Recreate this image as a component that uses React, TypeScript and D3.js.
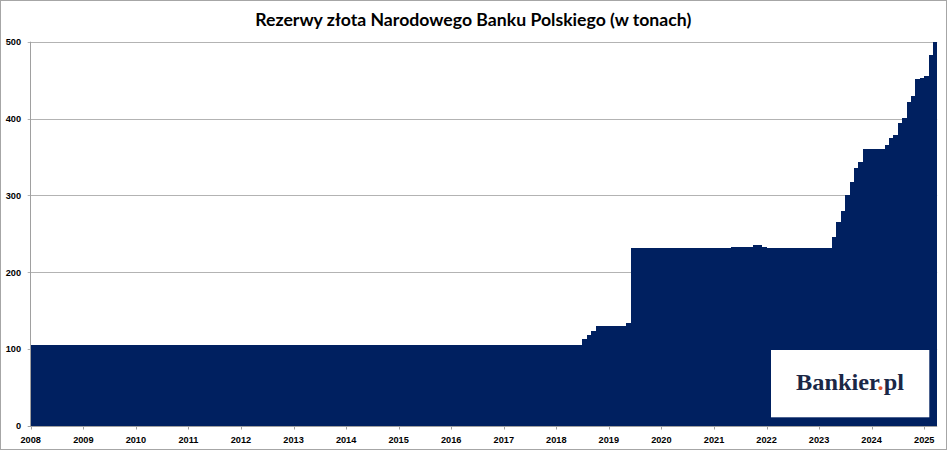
import React, { useEffect, useRef } from "react";
import * as d3 from "d3";

// Month in which the reserve level changed, and the level (tonnes) held from then on
const changeMonths: string[] = [
  "2008-01", "2018-07", "2018-08", "2018-09", "2018-10", "2019-05", "2019-06",
  "2021-05", "2021-06", "2021-09", "2021-10", "2021-12", "2022-01",
  "2023-04", "2023-05", "2023-06", "2023-07", "2023-08", "2023-09", "2023-10", "2023-11",
  "2024-01", "2024-03", "2024-04", "2024-05", "2024-06", "2024-07", "2024-08", "2024-09",
  "2024-10", "2024-11", "2024-12", "2025-01", "2025-02", "2025-03",
];
const changeValues: number[] = [
  105, 113, 118.5, 123, 130, 134.5, 231,
  233.5, 232.8, 232.5, 235.2, 233.5, 231,
  245.7, 266, 280, 301, 317, 335.5, 343, 360.7,
  360, 361, 366, 374.6, 379, 394, 400.6, 422,
  430, 452, 452.7, 455, 483, 499.6,
];
const lastMonth = "2025-03";

const yTicks: number[] = [0, 100, 200, 300, 400, 500];
const yearTicks: number[] = d3.range(2008, 2026);

const title = "Rezerwy złota Narodowego Banku Polskiego (w tonach)";

const parseMonth = d3.timeParse("%Y-%m");

const App: React.FC = () => {
  const svgRef = useRef<SVGSVGElement>(null);

  useEffect(() => {
    const svg = d3.select(svgRef.current);
    const W = 948;
    const H = 452;

    // expand the step changes into one bar per month
    const changes = changeMonths.map((m, i) => ({ date: parseMonth(m) as Date, value: changeValues[i] }));
    const months = d3.timeMonth.range(parseMonth("2008-01") as Date, d3.timeMonth.offset(parseMonth(lastMonth) as Date, 1));
    const data = months.map((d) => {
      let v = changes[0].value;
      for (const c of changes) if (c.date <= d) v = c.value;
      return { date: d, value: v };
    });

    const x = d3
      .scaleTime()
      .domain([new Date(2008, 0, 1), new Date(2025, 3, 1)])
      .range([30.7, 937.2]);
    const y = d3.scaleLinear().domain([0, 500]).range([426, 41.7]);

    // outer frame
    svg
      .append("rect")
      .attr("x", 0.5)
      .attr("y", 0.5)
      .attr("width", W - 2)
      .attr("height", H - 3)
      .attr("fill", "#fff")
      .attr("stroke", "#a6a6a6");

    // title
    svg
      .append("text")
      .attr("x", 473.3)
      .attr("y", 26)
      .attr("text-anchor", "middle")
      .attr("font-family", "Lato, 'Open Sans', sans-serif")
      .attr("font-weight", 700)
      .attr("font-size", 16.5)
      .attr("textLength", 436)
      .attr("lengthAdjust", "spacingAndGlyphs")
      .attr("fill", "#000")
      .text(title);

    // gridlines
    svg
      .append("g")
      .selectAll("line")
      .data(yTicks.filter((t) => t > 0))
      .join("line")
      .attr("x1", 27.7)
      .attr("x2", x.range()[1])
      .attr("y1", (d) => Math.round(y(d)) + 0.5)
      .attr("y2", (d) => Math.round(y(d)) + 0.5)
      .attr("stroke", "#b3b3b3")
      .attr("stroke-width", 1);

    // monthly bars, snapped to whole pixels so neighbours meet without seams
    svg
      .append("g")
      .attr("shape-rendering", "crispEdges")
      .selectAll("rect")
      .data(data)
      .join("rect")
      .attr("x", (d) => Math.round(x(d.date)))
      .attr("width", (d) => Math.round(x(d3.timeMonth.offset(d.date, 1))) - Math.round(x(d.date)))
      .attr("y", (d) => Math.round(y(d.value)))
      .attr("height", (d) => Math.round(y(0)) - Math.round(y(d.value)))
      .attr("fill", "#002060");

    // y axis line
    svg
      .append("line")
      .attr("x1", 30.5)
      .attr("x2", 30.5)
      .attr("y1", y(500))
      .attr("y2", y(0))
      .attr("stroke", "#a0a0a0");

    // x axis line + ticks
    svg
      .append("line")
      .attr("x1", 27.7)
      .attr("x2", x.range()[1])
      .attr("y1", y(0) + 0.5)
      .attr("y2", y(0) + 0.5)
      .attr("stroke", "#a0a0a0");

    svg
      .append("g")
      .selectAll("line")
      .data(yearTicks)
      .join("line")
      .attr("x1", (d) => Math.round(x(new Date(d, 0, 1))) + 0.5)
      .attr("x2", (d) => Math.round(x(new Date(d, 0, 1))) + 0.5)
      .attr("y1", y(0))
      .attr("y2", y(0) + 3.5)
      .attr("stroke", "#a0a0a0");

    // y labels
    svg
      .append("g")
      .selectAll("text")
      .data(yTicks)
      .join("text")
      .attr("x", 21)
      .attr("y", (d) => y(d) + 3.3)
      .attr("text-anchor", "end")
      .attr("font-family", "'Liberation Sans', Arial, sans-serif")
      .attr("font-weight", 700)
      .attr("font-size", 9.2)
      .attr("fill", "#000")
      .text((d) => String(d));

    // x labels
    svg
      .append("g")
      .selectAll("text")
      .data(yearTicks)
      .join("text")
      .attr("x", (d) => x(new Date(d, 0, 1)))
      .attr("y", 443.3)
      .attr("text-anchor", "middle")
      .attr("font-family", "'Liberation Sans', Arial, sans-serif")
      .attr("font-weight", 700)
      .attr("font-size", 9.2)
      .attr("fill", "#000")
      .text((d) => String(d));

    // logo box
    svg
      .append("rect")
      .attr("x", 771)
      .attr("y", 350)
      .attr("width", 158.3)
      .attr("height", 67.3)
      .attr("fill", "#fff");

    const logo = svg
      .append("text")
      .attr("x", 850)
      .attr("y", 390)
      .attr("text-anchor", "middle")
      .attr("font-family", "'Liberation Serif', 'DejaVu Serif', serif")
      .attr("font-weight", 700)
      .attr("font-size", 24)
      .attr("textLength", 108)
      .attr("lengthAdjust", "spacingAndGlyphs")
      .attr("fill", "#1b2746");
    logo.append("tspan").text("Bankier");
    logo.append("tspan").attr("fill", "#e2542a").text(".");
    logo.append("tspan").text("pl");

    return () => {
      svg.selectAll("*").remove();
    };
  }, []);

  return (
    <svg
      ref={svgRef}
      width="948"
      height="452"
      style={{ position: "absolute", left: 0, top: 0, display: "block" }}
    />
  );
};

export default App;
